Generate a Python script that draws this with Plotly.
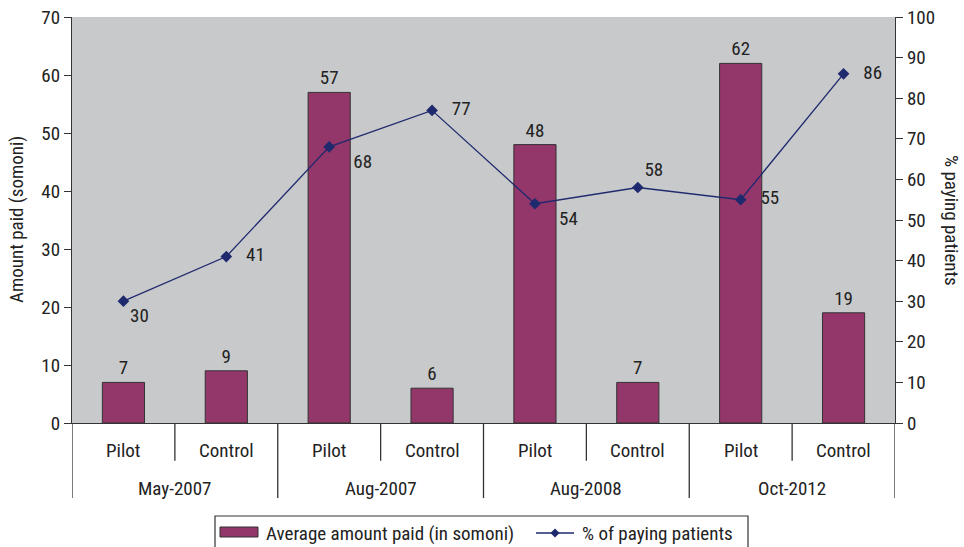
import plotly.graph_objects as go

groups = ["May-2007", "Aug-2007", "Aug-2008", "Oct-2012"]
arms = ["Pilot", "Control"]
amount_paid = [7, 9, 57, 6, 48, 7, 62, 19]
pct_paying = [30, 41, 68, 77, 54, 58, 55, 86]
pct_label_pos = ["bottom right", "middle right", "bottom right", "middle right",
                 "bottom right", "top right", "middle right", "middle right"]
pct_label_pad = [0, 3, 4, 3, 4, 0, 3, 3]
bar_name = "Average amount paid (in somoni)"
line_name = "% of paying patients"

FONT = "Liberation Sans Narrow, Roboto Condensed, Arial Narrow, sans-serif"
FS = 19
TXT = "#222222"
BAR = "#93366a"
LINE = "#1f2a6e"
EDGE = "#333333"

# plot-area geometry in pixels, used to place the hand-drawn legend
L, R, T, B = 72, 895, 17, 423
W, H = R - L, B - T


def px(xp):
    return (xp - L) / W


def py(yp):
    return (B - yp) / H


x = list(range(len(amount_paid)))

fig = go.Figure()
fig.add_trace(go.Bar(
    x=x, y=amount_paid, name=bar_name,
    width=0.41, marker=dict(color=BAR, line=dict(color=EDGE, width=1)),
    text=[str(v) for v in amount_paid], textposition="outside",
    textfont=dict(family=FONT, size=FS, color=TXT), cliponaxis=False,
))
fig.add_trace(go.Scatter(
    x=x, y=pct_paying, name=line_name, yaxis="y2",
    mode="lines+markers+text", line=dict(color=LINE, width=1.3),
    marker=dict(symbol="diamond", size=9, color=LINE),
    text=[" " * p + str(v) for p, v in zip(pct_label_pad, pct_paying)],
    textposition=pct_label_pos,
    textfont=dict(family=FONT, size=FS, color=TXT), cliponaxis=False,
))

shapes = []
annotations = []
n = len(amount_paid)
for b in range(n + 1):
    full = (b % 2 == 0)
    shapes.append(dict(type="line", xref="x", yref="paper",
                       x0=b - 0.5, x1=b - 0.5, y0=0, y1=-0.185 if full else -0.093,
                       line=dict(color=EDGE, width=1.3)))
for i in range(n):
    annotations.append(dict(x=i, y=py(450), xref="x", yref="paper", yanchor="middle",
                            text=arms[i % 2], showarrow=False,
                            font=dict(family=FONT, size=FS, color=TXT)))
for g, name in enumerate(groups):
    annotations.append(dict(x=2 * g + 0.5, y=py(488), xref="x", yref="paper", yanchor="middle",
                            text=name, showarrow=False,
                            font=dict(family=FONT, size=FS, color=TXT)))
annotations.append(dict(x=px(16), y=0.5, xref="paper", yref="paper", xanchor="center",
                        yanchor="middle", text="Amount paid (somoni)", textangle=-90,
                        showarrow=False, font=dict(family=FONT, size=FS, color=TXT)))
annotations.append(dict(x=px(952), y=0.5, xref="paper", yref="paper", xanchor="center",
                        yanchor="middle", text="% paying patients", textangle=90,
                        showarrow=False, font=dict(family=FONT, size=FS, color=TXT)))

# legend box with a wide bar swatch and a line-with-diamond swatch
shapes.append(dict(type="rect", xref="paper", yref="paper", x0=px(215), x1=px(748),
                   y0=py(560), y1=py(516), line=dict(color=EDGE, width=1.2),
                   fillcolor="white", layer="above"))
shapes.append(dict(type="rect", xref="paper", yref="paper", x0=px(220), x1=px(258),
                   y0=py(537), y1=py(527), line=dict(color=EDGE, width=1),
                   fillcolor=BAR))
shapes.append(dict(type="line", xref="paper", yref="paper", x0=px(536), x1=px(574),
                   y0=py(533), y1=py(533), line=dict(color=LINE, width=1.3)))
shapes.append(dict(type="path", xref="paper", yref="paper",
                   path="M {a},{m} L {c},{t} L {d},{m} L {c},{b} Z".format(
                       a=px(550.5), c=px(555), d=px(559.5), m=py(533), t=py(528.5), b=py(537.5)),
                   fillcolor=LINE, line=dict(color=LINE, width=0)))
annotations.append(dict(x=px(264), y=py(533), xref="paper", yref="paper", xanchor="left",
                        yanchor="middle", text=bar_name, showarrow=False,
                        font=dict(family=FONT, size=FS, color=TXT)))
annotations.append(dict(x=px(580), y=py(533), xref="paper", yref="paper", xanchor="left",
                        yanchor="middle", text=line_name, showarrow=False,
                        font=dict(family=FONT, size=FS, color=TXT)))

fig.update_layout(
    width=964, height=547,
    margin=dict(l=L, r=964 - R, t=T, b=547 - B, autoexpand=False),
    plot_bgcolor="#c8c9cb", paper_bgcolor="white",
    font=dict(family=FONT, size=FS, color=TXT),
    showlegend=False,
    xaxis=dict(range=[-0.5, n - 0.5], showticklabels=False, showgrid=False, zeroline=False,
               showline=True, linecolor=EDGE, linewidth=1.3, ticks=""),
    yaxis=dict(range=[0, 70], dtick=10, showgrid=False, zeroline=False, showline=True,
               linecolor=EDGE, linewidth=1.3, ticks="outside", ticklen=7,
               tickcolor=EDGE, tickfont=dict(family=FONT, size=FS, color=TXT)),
    yaxis2=dict(range=[0, 100], dtick=10, overlaying="y", side="right", showgrid=False,
                zeroline=False, showline=True, linecolor=EDGE, linewidth=1.3,
                ticks="outside", ticklen=7, tickcolor=EDGE,
                tickfont=dict(family=FONT, size=FS, color=TXT)),
    shapes=shapes, annotations=annotations,
)

fig.write_html("out.html")
